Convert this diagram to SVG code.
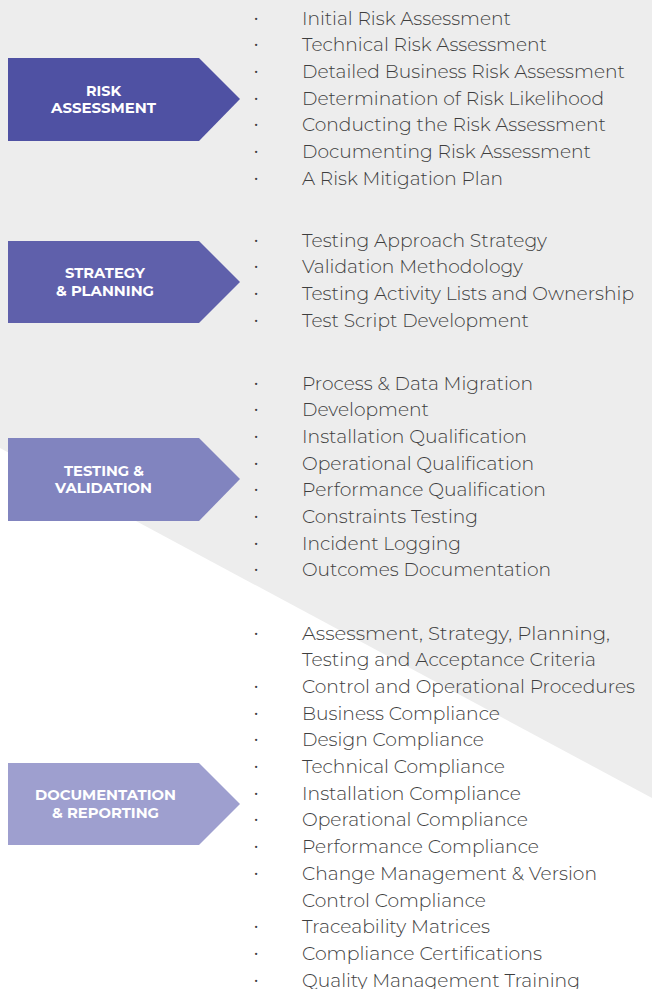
<svg xmlns="http://www.w3.org/2000/svg" width="652" height="989" viewBox="0 0 652 989">
<style>
.lbl{font-family:"Montserrat","Open Sans","Liberation Sans",sans-serif;font-weight:700;font-size:14px;fill:#ffffff;text-anchor:middle}
.it{font-family:"Montserrat","Open Sans","Liberation Sans",sans-serif;font-weight:300;font-size:18px;fill:#3e3e3e}
.bl{font-family:"Open Sans","Liberation Sans",sans-serif;font-size:18px;fill:#3e3e3e;text-anchor:middle}
</style>
<rect x="0" y="0" width="652" height="989" fill="#ffffff"/>
<polygon points="0,0 652,0 652,798 0,448" fill="#ededed"/>
<g id="connectors"></g>
<g id="risk-assessment">
<polygon points="8,58 199,58 240,99 199,141 8,141" fill="#4f51a3"/>
<text class="lbl" x="103.5" y="96" textLength="35" lengthAdjust="spacingAndGlyphs">RISK</text>
<text class="lbl" x="103.5" y="113" textLength="105" lengthAdjust="spacingAndGlyphs">ASSESSMENT</text>
</g>
<g id="risk-list">
<text class="bl" x="256" y="24.5">·</text><text class="it" x="302" y="24.5" textLength="209" lengthAdjust="spacingAndGlyphs">Initial Risk Assessment</text>
<text class="bl" x="256" y="51.2">·</text><text class="it" x="302" y="51.2" textLength="245" lengthAdjust="spacingAndGlyphs">Technical Risk Assessment</text>
<text class="bl" x="256" y="77.9">·</text><text class="it" x="302" y="77.9" textLength="323" lengthAdjust="spacingAndGlyphs">Detailed Business Risk Assessment</text>
<text class="bl" x="256" y="104.6">·</text><text class="it" x="302" y="104.6" textLength="302" lengthAdjust="spacingAndGlyphs">Determination of Risk Likelihood</text>
<text class="bl" x="256" y="131.3">·</text><text class="it" x="302" y="131.3" textLength="304" lengthAdjust="spacingAndGlyphs">Conducting the Risk Assessment</text>
<text class="bl" x="256" y="158">·</text><text class="it" x="302" y="158" textLength="289" lengthAdjust="spacingAndGlyphs">Documenting Risk Assessment</text>
<text class="bl" x="256" y="184.7">·</text><text class="it" x="302" y="184.7" textLength="201" lengthAdjust="spacingAndGlyphs">A Risk Mitigation Plan</text>
</g>
<g id="strategy-planning">
<polygon points="8,241 199,241 240,282 199,323 8,323" fill="#5f60ab"/>
<text class="lbl" x="105" y="278" textLength="80" lengthAdjust="spacingAndGlyphs">STRATEGY</text>
<text class="lbl" x="105" y="296" textLength="98" lengthAdjust="spacingAndGlyphs">&amp; PLANNING</text>
</g>
<g id="strategy-list">
<text class="bl" x="256" y="246.5">·</text><text class="it" x="302" y="246.5" textLength="245" lengthAdjust="spacingAndGlyphs">Testing Approach Strategy</text>
<text class="bl" x="256" y="273.2">·</text><text class="it" x="302" y="273.2" textLength="221" lengthAdjust="spacingAndGlyphs">Validation Methodology</text>
<text class="bl" x="256" y="299.9">·</text><text class="it" x="302" y="299.9" textLength="332" lengthAdjust="spacingAndGlyphs">Testing Activity Lists and Ownership</text>
<text class="bl" x="256" y="326.6">·</text><text class="it" x="302" y="326.6" textLength="227" lengthAdjust="spacingAndGlyphs">Test Script Development</text>
</g>
<g id="testing-validation">
<polygon points="8,438 199,438 240,479 199,521 8,521" fill="#8184bf"/>
<text class="lbl" x="104" y="476" textLength="80" lengthAdjust="spacingAndGlyphs">TESTING &amp;</text>
<text class="lbl" x="103.5" y="493" textLength="97" lengthAdjust="spacingAndGlyphs">VALIDATION</text>
</g>
<g id="testing-list">
<text class="bl" x="256" y="389.5">·</text><text class="it" x="302" y="389.5" textLength="231" lengthAdjust="spacingAndGlyphs">Process &amp; Data Migration</text>
<text class="bl" x="256" y="416.2">·</text><text class="it" x="302" y="416.2" textLength="127" lengthAdjust="spacingAndGlyphs">Development</text>
<text class="bl" x="256" y="442.9">·</text><text class="it" x="302" y="442.9" textLength="225" lengthAdjust="spacingAndGlyphs">Installation Qualification</text>
<text class="bl" x="256" y="469.6">·</text><text class="it" x="302" y="469.6" textLength="232" lengthAdjust="spacingAndGlyphs">Operational Qualification</text>
<text class="bl" x="256" y="496.3">·</text><text class="it" x="302" y="496.3" textLength="244" lengthAdjust="spacingAndGlyphs">Performance Qualification</text>
<text class="bl" x="256" y="523">·</text><text class="it" x="302" y="523" textLength="176" lengthAdjust="spacingAndGlyphs">Constraints Testing</text>
<text class="bl" x="256" y="549.7">·</text><text class="it" x="302" y="549.7" textLength="159" lengthAdjust="spacingAndGlyphs">Incident Logging</text>
<text class="bl" x="256" y="576.4">·</text><text class="it" x="302" y="576.4" textLength="249" lengthAdjust="spacingAndGlyphs">Outcomes Documentation</text>
</g>
<g id="documentation-reporting">
<polygon points="8,763 199,763 240,804 199,845 8,845" fill="#9e9fcf"/>
<text class="lbl" x="105.5" y="800" textLength="141" lengthAdjust="spacingAndGlyphs">DOCUMENTATION</text>
<text class="lbl" x="105.5" y="818" textLength="107" lengthAdjust="spacingAndGlyphs">&amp; REPORTING</text>
</g>
<g id="documentation-list">
<text class="bl" x="256" y="639.5">·</text><text class="it" x="302" y="639.5" textLength="308" lengthAdjust="spacingAndGlyphs">Assessment, Strategy, Planning,</text>
<text class="it" x="302" y="666.2" textLength="294" lengthAdjust="spacingAndGlyphs">Testing and Acceptance Criteria</text>
<text class="bl" x="256" y="692.9">·</text><text class="it" x="302" y="692.9" textLength="333" lengthAdjust="spacingAndGlyphs">Control and Operational Procedures</text>
<text class="bl" x="256" y="719.6">·</text><text class="it" x="302" y="719.6" textLength="198" lengthAdjust="spacingAndGlyphs">Business Compliance</text>
<text class="bl" x="256" y="746.3">·</text><text class="it" x="302" y="746.3" textLength="182" lengthAdjust="spacingAndGlyphs">Design Compliance</text>
<text class="bl" x="256" y="773">·</text><text class="it" x="302" y="773" textLength="203" lengthAdjust="spacingAndGlyphs">Technical Compliance</text>
<text class="bl" x="256" y="799.7">·</text><text class="it" x="302" y="799.7" textLength="219" lengthAdjust="spacingAndGlyphs">Installation Compliance</text>
<text class="bl" x="256" y="826.4">·</text><text class="it" x="302" y="826.4" textLength="226" lengthAdjust="spacingAndGlyphs">Operational Compliance</text>
<text class="bl" x="256" y="853.1">·</text><text class="it" x="302" y="853.1" textLength="237" lengthAdjust="spacingAndGlyphs">Performance Compliance</text>
<text class="bl" x="256" y="879.8">·</text><text class="it" x="302" y="879.8" textLength="295" lengthAdjust="spacingAndGlyphs">Change Management &amp; Version</text>
<text class="it" x="302" y="906.5" textLength="184" lengthAdjust="spacingAndGlyphs">Control Compliance</text>
<text class="bl" x="256" y="933.2">·</text><text class="it" x="302" y="933.2" textLength="188" lengthAdjust="spacingAndGlyphs">Traceability Matrices</text>
<text class="bl" x="256" y="959.9">·</text><text class="it" x="302" y="959.9" textLength="240" lengthAdjust="spacingAndGlyphs">Compliance Certifications</text>
<text class="bl" x="256" y="986.6">·</text><text class="it" x="302" y="986.6" textLength="278" lengthAdjust="spacingAndGlyphs">Quality Management Training</text>
</g>
</svg>
